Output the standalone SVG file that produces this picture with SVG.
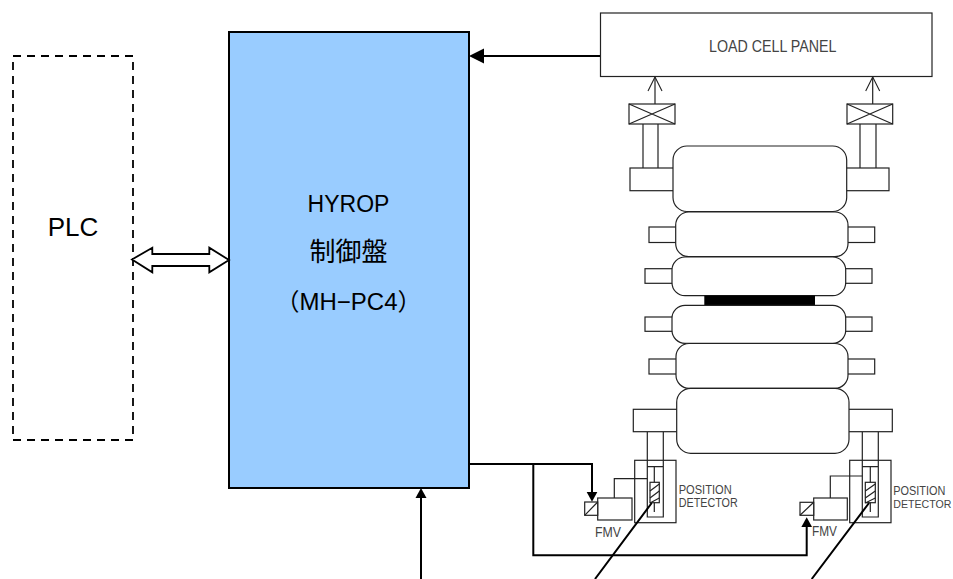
<svg xmlns="http://www.w3.org/2000/svg" width="953" height="579" viewBox="0 0 953 579">
<style>
.ln{fill:none;stroke:#222;stroke-width:1.2}
.bx{fill:#fff;stroke:#222;stroke-width:1.2}
.wire{fill:none;stroke:#000;stroke-width:2}
.big{font-family:"Liberation Sans","Noto Sans CJK JP",sans-serif;fill:#000;text-anchor:middle}
.cad{font-family:"Liberation Sans Narrow","Liberation Sans",sans-serif;fill:#444}
</style>
<defs>
<marker id="head" markerUnits="userSpaceOnUse" markerWidth="16" markerHeight="18" refX="11" refY="9" orient="auto"><path d="M0 1.500L15 9L0 16.500Z" fill="#000"/></marker>
<marker id="small" markerUnits="userSpaceOnUse" markerWidth="12" markerHeight="13" refX="6" refY="6.500" orient="auto"><path d="M0 1L10 6.500L0 12Z" fill="#000"/></marker>
<marker id="open" markerUnits="userSpaceOnUse" markerWidth="16" markerHeight="16" refX="15" refY="8" orient="auto"><path d="M1 1L15 8L1 15" fill="none" stroke="#222" stroke-width="1.100"/></marker>
</defs>
<rect width="953" height="579" fill="#fff"/>
<g id="plc">
<rect x="13" y="56" width="120" height="384" fill="#fff" stroke="#000" stroke-width="1.800" stroke-dasharray="8 6"/>
<text class="big" x="73" y="236" font-size="26">PLC</text>
</g>
<g id="hyrop">
<rect x="229" y="32" width="240" height="456" fill="#99ccff" stroke="#000" stroke-width="2"/>
<text class="big" x="348.500" y="212" font-size="23">HYROP</text>
<text class="big" x="348.500" y="261" font-size="26">制御盤</text>
<text class="big" x="348.500" y="310" font-size="24">（MH−PC4）</text>
</g>
<g id="load-cell-panel">
<rect class="bx" x="600.500" y="13" width="331.500" height="63.500"/>
<text class="cad" x="709" y="51.500" font-size="17" textLength="127.500" lengthAdjust="spacingAndGlyphs">LOAD CELL PANEL</text>
</g>
<g id="rolls">
<rect class="bx" x="630" y="168" width="50" height="22.700"/>
<rect class="bx" x="840" y="168" width="49" height="22.700"/>
<rect class="bx" x="649" y="227" width="32" height="15.500"/>
<rect class="bx" x="843" y="227" width="31.700" height="15.500"/>
<rect class="bx" x="645" y="268.700" width="32" height="14.600"/>
<rect class="bx" x="840" y="268.700" width="32" height="14.600"/>
<rect class="bx" x="645" y="317" width="32" height="14.300"/>
<rect class="bx" x="840" y="317" width="32" height="14.300"/>
<rect class="bx" x="649" y="359" width="32" height="15"/>
<rect class="bx" x="843" y="359" width="31.700" height="15"/>
<rect class="bx" x="633.300" y="409.300" width="50" height="22.400"/>
<rect class="bx" x="843" y="409.300" width="49.300" height="22.400"/>
<rect class="bx" x="673" y="146" width="173.700" height="65.500" rx="14"/>
<rect class="bx" x="675.700" y="212" width="172.300" height="44.700" rx="13"/>
<rect class="bx" x="672" y="257" width="173.700" height="38.700" rx="13"/>
<rect x="704.300" y="295.500" width="110.700" height="10.500" fill="#000"/>
<rect class="bx" x="672" y="305.300" width="173.700" height="38" rx="13"/>
<rect class="bx" x="676" y="343.500" width="172" height="44.800" rx="13"/>
<rect class="bx" x="676.700" y="388.300" width="172.300" height="65" rx="14"/>
</g>
<g id="load-cell-left">
<rect class="bx" x="629" y="104" width="46" height="20"/>
<path class="ln" d="M629 104L675 124M675 104L629 124M643 124V168M658 124V168"/>
</g>
<g id="load-cell-right">
<rect class="bx" x="847" y="104" width="45.700" height="20"/>
<path class="ln" d="M847 104L892.700 124M892.700 104L847 124M860 124V168M876 124V168"/>
</g>
<g id="detector-left">
<rect class="ln" x="634.700" y="460.300" width="41.300" height="62.400"/>
<path class="ln" d="M647.300 432V517H663.300V432M647.300 466.700H663.300M654.300 466.700V512"/>
<rect class="bx" x="650" y="482.300" width="9.300" height="20.400"/>
<path class="ln" d="M650 491L659.300 484M650 498L659.300 491M650 503L659.300 498"/>
<text class="cad" x="678.700" y="494.300" font-size="12" textLength="53" lengthAdjust="spacingAndGlyphs">POSITION</text>
<text class="cad" x="678.700" y="507.300" font-size="12" textLength="59" lengthAdjust="spacingAndGlyphs">DETECTOR</text>
</g>
<g id="fmv-left">
<rect class="bx" x="597.700" y="498" width="34.300" height="22"/>
<rect class="bx" x="584.700" y="502" width="13" height="13.300"/>
<path class="ln" d="M584.700 515.300L597.700 502M614.300 498V478.700H647.300"/>
<text class="cad" x="595" y="536.700" font-size="15" textLength="26" lengthAdjust="spacingAndGlyphs">FMV</text>
</g>
<g id="detector-right">
<rect class="ln" x="849.700" y="460.300" width="41.300" height="62.400"/>
<path class="ln" d="M862.300 432V517H878.300V432M862.300 466.700H878.300M870.300 466.700V512"/>
<rect class="bx" x="865.300" y="482.300" width="10" height="20.400"/>
<path class="ln" d="M865.300 491L875.300 484M865.300 498L875.300 491M865.300 503L875.300 498"/>
<text class="cad" x="893.300" y="495" font-size="12" textLength="52" lengthAdjust="spacingAndGlyphs">POSITION</text>
<text class="cad" x="893.300" y="508" font-size="11" textLength="58" lengthAdjust="spacingAndGlyphs">DETECTOR</text>
</g>
<g id="fmv-right">
<rect class="bx" x="813.700" y="498" width="33.600" height="22"/>
<rect class="bx" x="800" y="502.300" width="13.700" height="13"/>
<path class="ln" d="M800 515.300L813.700 502.300M830.300 498V476H862.300"/>
<text class="cad" x="812" y="536" font-size="15" textLength="25" lengthAdjust="spacingAndGlyphs">FMV</text>
</g>
<g id="connectors">
<path class="wire" d="M600 56H473" marker-end="url(#head)"/>
<path class="wire" d="M469 464H592V497.700" marker-end="url(#small)"/>
<path class="wire" d="M533.300 464V555.300H806.700V521.300" marker-end="url(#small)"/>
<path class="wire" d="M421 579V492" marker-end="url(#small)"/>
<path class="wire" d="M651.700 503L595 579M869 503L811.700 579"/>
<path class="ln" d="M655 104V77" marker-end="url(#open)"/>
<path class="ln" d="M872.700 104V77" marker-end="url(#open)"/>
<path d="M132 259.500L152.300 247.700V254H209.300V247.700L229 260L209.300 272.300V266H152.300V272.300Z" fill="#fff" stroke="#000" stroke-width="1.800"/>
</g>
</svg>
